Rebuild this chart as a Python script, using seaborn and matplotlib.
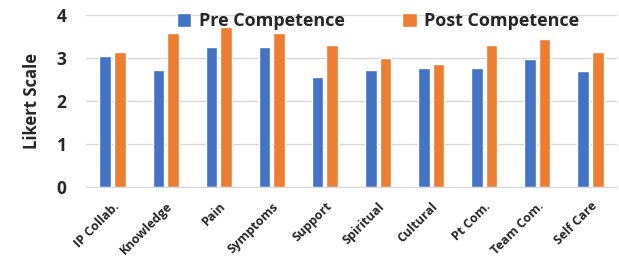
import matplotlib
matplotlib.use('Agg')
import matplotlib.pyplot as plt
import seaborn as sns
import pandas as pd

categories = ['IP Collab.', 'Knowledge', 'Pain', 'Symptoms', 'Support',
              'Spiritual', 'Cultural', 'Pt Com.', 'Team Com.', 'Self Care']
pre_values = [3.04, 2.72, 3.25, 3.25, 2.55, 2.72, 2.76, 2.76, 2.97, 2.69]
post_values = [3.13, 3.57, 3.71, 3.57, 3.29, 2.99, 2.85, 3.29, 3.43, 3.13]
series_names = ['Pre Competence', 'Post Competence']
y_ticks = [0, 1, 2, 3, 4]

sns.set_style('white')
plt.rcParams['font.family'] = ['Open Sans', 'DejaVu Sans']

df = pd.DataFrame({
    'cat': categories * 2,
    'val': pre_values + post_values,
    'series': [series_names[0]] * len(categories) + [series_names[1]] * len(categories),
})

fig = plt.figure(figsize=(6.19, 2.61), dpi=100)
ax = fig.add_axes([86 / 619, 1 - 187.3 / 261, (617 - 86) / 619, (187.3 - 14.7) / 261])

sns.barplot(data=df, x='cat', y='val', hue='series', ax=ax,
            palette=['#4472C4', '#ED7D31'], width=0.55, gap=0.2,
            saturation=1, errorbar=None)

ax.set_ylim(0, 4)
ax.set_xlim(-0.5, len(categories) - 0.5)
ax.set_yticks(y_ticks)
ax.yaxis.grid(True, color='#D9D9D9', linewidth=1)
ax.set_axisbelow(True)
for s in ['top', 'right', 'left']:
    ax.spines[s].set_visible(False)
ax.spines['bottom'].set_color('#D9D9D9')
ax.tick_params(axis='both', length=0)
ax.set_yticklabels([str(t) for t in y_ticks], fontsize=12.5, fontweight='bold')
ax.tick_params(axis='y', pad=14)
ax.set_xticks(range(len(categories)))
ax.set_xticklabels(categories, rotation=45, ha='right', rotation_mode='anchor',
                   fontsize=9, fontweight='bold')
ax.tick_params(axis='x', pad=9)
ax.set_xlabel('')
ax.set_ylabel('Likert Scale', fontsize=12, fontweight='bold', labelpad=11)

ax.legend(loc='upper center', bbox_to_anchor=(0.55, 1.11), ncol=2, frameon=False,
          prop={'size': 13, 'weight': 'bold'}, handlelength=0.8, handleheight=0.8,
          handletextpad=0.4, columnspacing=3.2)

fig.savefig('out.png', dpi=100)
